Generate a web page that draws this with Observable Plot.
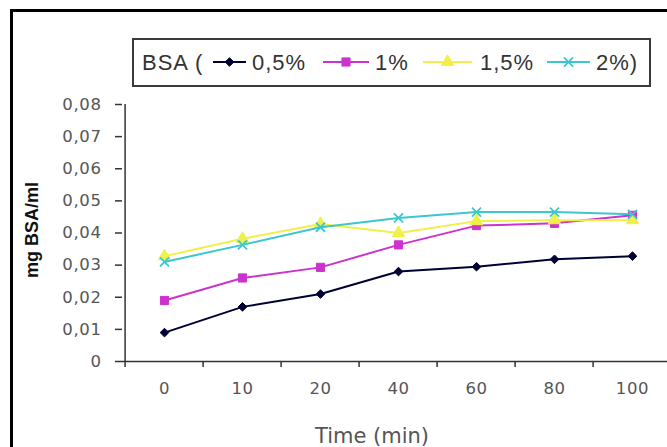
<!DOCTYPE html>
<html><head><meta charset="utf-8">
<script src="https://cdn.jsdelivr.net/npm/d3@7"></script>
<script src="https://cdn.jsdelivr.net/npm/@observablehq/plot@0.6"></script>
<style>
html,body{margin:0;padding:0;background:#fff;}
#fig{position:relative;width:667px;height:447px;overflow:hidden;background:#fff;font-family:"Liberation Sans",Arial,sans-serif;}
#frame{position:absolute;left:10px;top:9px;width:700px;height:500px;border-left:3px solid #000;border-top:3px solid #000;box-sizing:border-box;}
#legend{position:absolute;left:132px;top:38px;width:515px;height:45px;border:2px solid #3a3a3a;background:#fff;}
.lg{position:absolute;top:0;height:45px;line-height:45px;font-size:22px;color:#333;letter-spacing:1px;white-space:nowrap;}
.sw{position:absolute;top:12px;overflow:visible;}
#chart{position:absolute;left:0;top:90px;}
#chart g[aria-label="y-axis tick label"] text,
#chart g[aria-label="x-axis tick label"] text{letter-spacing:0.6px;}
</style>
</head><body>
<div id="fig"><div id="frame"></div><div id="legend"></div><div id="chart"></div></div>
<script>
// ---- data ----
const times = [0, 10, 20, 40, 60, 80, 100];
const seriesNames = ["0,5%", "1%", "1,5%", "2%"];
const bsa05 = [0.009, 0.017, 0.021, 0.028, 0.0295, 0.0318, 0.0328];
const bsa1  = [0.019, 0.026, 0.0293, 0.0363, 0.0423, 0.043, 0.0455];
const bsa15 = [0.0328, 0.0382, 0.0428, 0.040, 0.0437, 0.044, 0.044];
const bsa2  = [0.031, 0.0363, 0.0418, 0.0447, 0.0465, 0.0465, 0.0458];
const yTicks = [0, 0.01, 0.02, 0.03, 0.04, 0.05, 0.06, 0.07, 0.08];
const yTickLabels = ["0", "0,01", "0,02", "0,03", "0,04", "0,05", "0,06", "0,07", "0,08"];
const legendTitle = "BSA (";
const legendClose = ")";
const xTitle = "Time (min)";
const yTitle = "mg BSA/ml";

// ---- styles ----
const colors = ["#000033", "#cc33cc", "#f0f048", "#3cc6d0"];
const symbols = ["diamond2", "square", "triangle", "times"];
const symbolR = [3.9, 4.6, 4.6, 4.2];

const seriesValues = [bsa05, bsa1, bsa15, bsa2];
const rows = seriesNames.flatMap((s, i) =>
  times.map((t, j) => ({time: t, value: seriesValues[i][j], series: s})));

const xRange = [122, 673.6];
const step = (xRange[1] - xRange[0]) / times.length;
const axisColor = "#333";
const labelColor = "#555";

const seriesMarks = seriesNames.flatMap((s, i) => {
  const d = rows.filter(r => r.series === s);
  return [
    Plot.line(d, {x: "time", y: "value", stroke: colors[i], strokeWidth: 2}),
    Plot.dot(d, {x: "time", y: "value", symbol: () => symbols[i], r: symbolR[i],
      fill: symbols[i] === "times" ? "none" : colors[i], stroke: colors[i], strokeWidth: symbols[i] === "times" ? 1.8 : 1})
  ];
});

const chart = Plot.plot({
  width: 667,
  height: 357,
  marginTop: 14,
  marginBottom: 86,
  marginLeft: 122,
  marginRight: 0,
  style: {fontFamily: "'DejaVu Sans', sans-serif", background: "transparent", overflow: "visible"},
  x: {type: "point", domain: times, range: xRange, padding: 0.5, axis: null},
  y: {domain: [0, 0.08], axis: null},
  symbol: {type: "identity"},
  marks: [
    Plot.axisY({ticks: yTicks, tickFormat: d => yTickLabels[yTicks.indexOf(d)], tickSize: 7, tickPadding: 14,
      fontSize: 16.5, stroke: axisColor, fill: labelColor, strokeWidth: 1.5, label: null}),
    Plot.axisX({ticks: times, tickFormat: () => "", tickSize: 6, dx: -step / 2, stroke: axisColor, strokeWidth: 1.5, label: null}),
    Plot.axisX({ticks: times, tickSize: 0, tickPadding: 21, fontSize: 16.5, fill: labelColor, label: null}),
    Plot.ruleY([0], {stroke: axisColor, strokeWidth: 1.5}),
    Plot.ruleX([times[0]], {y1: 0, y2: 0.08, dx: -step / 2, stroke: axisColor, strokeWidth: 1.5}),
    Plot.text([xTitle], {frameAnchor: "bottom", text: d => d, dx: -23, dy: 75, fontSize: 21, fill: labelColor, lineAnchor: "middle"}),
    Plot.text([yTitle], {frameAnchor: "left", text: d => d, rotate: -90, dx: -90, dy: -3, textAnchor: "middle", lineAnchor: "middle",
      fontSize: 18, fontWeight: "bold", fill: "#111", fontFamily: "'Liberation Sans Narrow', 'Liberation Sans', sans-serif"}),
    ...seriesMarks
  ]
});
document.getElementById("chart").append(chart);

// ---- legend ----
const legend = d3.select("#legend");
const d3sym = {diamond2: d3.symbolDiamond2, square: d3.symbolSquare, triangle: d3.symbolTriangle, times: d3.symbolTimes || d3.symbolCross};
const textPos = [118, 241, 346, 462];
const swPos = [79, 189, 289, 413];
const swW = [33, 46, 49, 43];
legend.append("span").attr("class", "lg").style("left", "8px").text(legendTitle);
seriesNames.forEach((s, i) => {
  const svg = legend.append("svg").attr("class", "sw").style("left", swPos[i] + "px")
    .attr("width", swW[i]).attr("height", 20);
  svg.append("line").attr("x1", 0).attr("x2", swW[i]).attr("y1", 10).attr("y2", 10)
    .attr("stroke", colors[i]).attr("stroke-width", 2);
  svg.append("path").attr("transform", `translate(${swW[i] / 2},10)`)
    .attr("d", d3.symbol().type(d3sym[symbols[i]]).size(Math.PI * symbolR[i] * symbolR[i])())
    .attr("fill", symbols[i] === "times" ? "none" : colors[i]).attr("stroke", colors[i])
    .attr("stroke-width", symbols[i] === "times" ? 1.8 : 1);
  legend.append("span").attr("class", "lg").style("left", textPos[i] + "px")
    .text(s + (i === seriesNames.length - 1 ? legendClose : ""));
});
</script>
</body></html>
